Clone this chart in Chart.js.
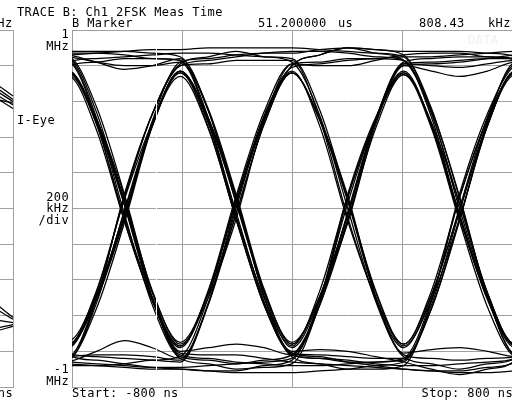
<!DOCTYPE html>
<html>
<head>
<meta charset="utf-8">
<script src="https://cdn.jsdelivr.net/npm/chart.js@4.4.1/dist/chart.umd.min.js"></script>
<style>
html, body { margin: 0; padding: 0; background: #fff; }
body { width: 512px; height: 401px; overflow: hidden; position: relative; }
#eyeI { position: absolute; left: -208px; top: 0; }
#eyeQ { position: absolute; left: 0; top: 0; }
</style>
</head>
<body>
<canvas id="eyeI" width="240" height="401"></canvas>
<canvas id="eyeQ" width="1180" height="401"></canvas>
<script>
// sample instants (ns): symbol peaks, quarter points and crossings
const sampleTimes = [-845.5, -805, -764.5, -724, -683.5, -643, -602.5, -562, -521.5, -481, -440.5, -400, -359.5, -319, -278.5, -238, -197.5, -157, -116.5, -76];

// frequency (MHz) of each captured trace at sampleTimes
const eyeTrace01 = [0.49, 0.77, 0.5, 0.05, -0.46, -0.76, -0.5, -0.06, 0.49, 0.81, 0.82, 0.84, 0.84, 0.83, 0.53, 0.03, -0.47, -0.77, -0.46, 0.06];
const eyeTrace02 = [-0.49, -0.77, -0.5, -0.05, 0.46, 0.76, 0.5, 0.07, -0.49, -0.82, -0.84, -0.86, -0.86, -0.85, -0.54, -0.02, 0.48, 0.77, 0.46, -0.06];
const eyeTrace03 = [0.88, 0.87, 0.87, 0.86, 0.84, 0.83, 0.51, -0.04, -0.5, -0.77, -0.46, 0.07, 0.5, 0.76, 0.46, -0.05, -0.5, -0.76, -0.47, 0.03];
const eyeTrace04 = [-0.89, -0.88, -0.88, -0.87, -0.85, -0.83, -0.5, 0.05, 0.5, 0.77, 0.46, -0.07, -0.5, -0.76, -0.46, 0.06, 0.5, 0.76, 0.48, 0.0];
const eyeTrace05 = [0.48, 0.76, 0.5, 0.07, -0.5, -0.83, -0.85, -0.87, -0.85, -0.82, -0.54, -0.07, 0.49, 0.82, 0.84, 0.85, 0.85, 0.84, 0.54, 0.04];
const eyeTrace06 = [-0.48, -0.76, -0.46, 0.06, 0.53, 0.81, 0.85, 0.88, 0.85, 0.82, 0.52, 0.0, -0.52, -0.83, -0.87, -0.9, -0.87, -0.84, -0.55, -0.05];
const eyeTrace07 = [0.52, 0.82, 0.84, 0.85, 0.86, 0.87, 0.87, 0.86, 0.85, 0.84, 0.55, 0.05, -0.47, -0.77, -0.51, -0.06, 0.46, 0.77, 0.51, 0.06];
const eyeTrace08 = [-0.52, -0.82, -0.85, -0.87, -0.89, -0.9, -0.91, -0.91, -0.88, -0.85, -0.51, 0.08, 0.51, 0.76, 0.47, -0.03, -0.49, -0.76, -0.46, 0.05];
const eyeTrace09 = [0.83, 0.82, 0.49, -0.07, -0.51, -0.77, -0.47, 0.03, 0.49, 0.76, 0.5, 0.07, -0.49, -0.82, -0.84, -0.85, -0.84, -0.83, -0.52, 0.0];
const eyeTrace10 = [-0.85, -0.84, -0.56, -0.08, 0.46, 0.77, 0.5, 0.04, -0.46, -0.76, -0.49, -0.04, 0.5, 0.81, 0.8, 0.79, 0.81, 0.83, 0.5, -0.05];
const eyeTrace11 = [0.5, 0.8, 0.82, 0.84, 0.84, 0.83, 0.55, 0.06, -0.49, -0.81, -0.82, -0.83, -0.84, -0.84, -0.56, -0.07, 0.49, 0.82, 0.83, 0.84];
const eyeTrace12 = [-0.51, -0.81, -0.83, -0.84, -0.85, -0.86, -0.54, 0.0, 0.5, 0.8, 0.86, 0.9, 0.87, 0.83, 0.55, 0.07, -0.49, -0.82, -0.84, -0.85];
const eyeTrace13 = [0.85, 0.84, 0.54, 0.02, -0.51, -0.82, -0.84, -0.86, -0.87, -0.88, -0.88, -0.87, -0.86, -0.84, -0.51, 0.06, 0.5, 0.76, 0.47, -0.03];
const eyeTrace14 = [-0.84, -0.83, -0.5, 0.07, 0.53, 0.8, 0.83, 0.85, 0.87, 0.88, 0.88, 0.87, 0.85, 0.83, 0.51, -0.04, -0.5, -0.77, -0.47, 0.05];
const eyeTrace15 = [0.85, 0.86, 0.87, 0.88, 0.89, 0.89, 0.9, 0.9, 0.9, 0.9, 0.89, 0.88, 0.87, 0.85, 0.54, 0.0, -0.48, -0.76, -0.45, 0.07];
const eyeTrace16 = [-0.86, -0.87, -0.88, -0.89, -0.9, -0.9, -0.91, -0.92, -0.92, -0.92, -0.91, -0.9, -0.88, -0.86, -0.56, -0.06, 0.46, 0.77, 0.49, 0.02];
const eyeTrace17 = [0.49, 0.77, 0.47, -0.05, -0.5, -0.77, -0.46, 0.07, 0.54, 0.81, 0.8, 0.8, 0.83, 0.86, 0.87, 0.87, 0.85, 0.83, 0.52, -0.02];
const eyeTrace18 = [-0.48, -0.76, -0.49, -0.02, 0.47, 0.76, 0.46, -0.06, -0.54, -0.82, -0.84, -0.85, -0.87, -0.88, -0.88, -0.87, -0.86, -0.84, -0.51, 0.06];
const eyeTrace19 = [0.87, 0.86, 0.82, 0.78, 0.8, 0.84, 0.56, 0.08, -0.45, -0.76, -0.49, -0.03, 0.49, 0.8, 0.77, 0.74, 0.77, 0.82, 0.51, -0.02];
const eyeTrace20 = [-0.88, -0.86, -0.8, -0.74, -0.78, -0.84, -0.54, -0.03, 0.47, 0.76, 0.49, 0.04, -0.5, -0.81, -0.79, -0.78, -0.8, -0.83, -0.51, 0.03];
const eyeTrace21 = [-0.49, -0.77, -0.51, -0.06, 0.49, 0.82, 0.84, 0.86, 0.87, 0.87, 0.89, 0.9, 0.89, 0.88, 0.88, 0.88, 0.87, 0.85, 0.56, 0.06];
const eyeTrace22 = [0.48, 0.76, 0.49, 0.04, -0.5, -0.81, -0.82, -0.82, -0.84, -0.86, -0.87, -0.88, -0.89, -0.9, -0.91, -0.91, -0.89, -0.86, -0.56, -0.05];
const eyeTrace23 = [0.47, 0.75, 0.48, 0.02, -0.47, -0.75, -0.48, -0.03, 0.47, 0.76, 0.5, 0.05, -0.46, -0.76, -0.48, -0.01, 0.47, 0.75, 0.49, 0.04];
const eyeTrace24 = [-0.47, -0.74, -0.48, -0.04, 0.47, 0.77, 0.51, 0.06, -0.47, -0.78, -0.51, -0.06, 0.45, 0.75, 0.48, 0.03, -0.47, -0.77, -0.5, -0.04];
const eyeTrace25 = [-0.87, -0.85, -0.51, 0.08, 0.53, 0.8, 0.81, 0.83, 0.83, 0.83, 0.5, -0.05, -0.51, -0.78, -0.49, 0.0, 0.51, 0.81, 0.83, 0.84];
const eyeTrace26 = [0.84, 0.83, 0.51, -0.03, -0.54, -0.84, -0.87, -0.9, -0.89, -0.87, -0.53, 0.06, 0.49, 0.75, 0.45, -0.07, -0.55, -0.83, -0.85, -0.86];
const eyeTrace27 = [-0.85, -0.86, -0.87, -0.88, -0.89, -0.89, -0.88, -0.87, -0.86, -0.84, -0.54, -0.02, 0.5, 0.81, 0.82, 0.83, 0.84, 0.84, 0.55, 0.05];
const eyeTrace28 = [0.86, 0.85, 0.82, 0.8, 0.8, 0.82, 0.49, -0.06, -0.53, -0.8, -0.79, -0.8, -0.83, -0.86, -0.9, -0.93, -0.9, -0.85, -0.55, -0.04];
const eyeTrace29 = [0.47, 0.74, 0.44, -0.07, -0.52, -0.78, -0.47, 0.05, 0.52, 0.8, 0.86, 0.9, 0.89, 0.86, 0.56, 0.06, -0.49, -0.82, -0.83, -0.84];
const eyeTrace30 = [-0.49, -0.78, -0.47, 0.05, 0.48, 0.74, 0.45, -0.05, -0.54, -0.83, -0.87, -0.9, -0.9, -0.88, -0.52, 0.08, 0.53, 0.8, 0.83, 0.85];
const eyeTrace31 = [-0.84, -0.83, -0.82, -0.82, -0.83, -0.85, -0.53, 0.02, 0.51, 0.79, 0.81, 0.83, 0.84, 0.85, 0.85, 0.86, 0.87, 0.88, 0.88, 0.87];
const eyeTrace32 = [0.88, 0.88, 0.88, 0.88, 0.87, 0.85, 0.55, 0.03, -0.46, -0.75, -0.5, -0.08, 0.47, 0.8, 0.81, 0.82, 0.84, 0.86, 0.87, 0.87];
const eyeTrace33 = [-0.84, -0.84, -0.53, -0.01, 0.48, 0.77, 0.48, -0.02, -0.52, -0.81, -0.83, -0.86, -0.88, -0.9, -0.91, -0.92, -0.92, -0.91, -0.9, -0.9];
const eyeTrace34 = [0.86, 0.85, 0.57, 0.08, -0.47, -0.8, -0.78, -0.76, -0.78, -0.82, -0.51, 0.03, 0.5, 0.77, 0.47, -0.04, -0.51, -0.78, -0.47, 0.07];

// I-Eye panel on the left, only its last few ns are on screen
const iEyeTimes = [740, 770, 800, 830];
const iEyeUpper1 = [0.76, 0.71, 0.63, 0.55];
const iEyeUpper2 = [0.74, 0.69, 0.61, 0.52];
const iEyeUpper3 = [0.72, 0.67, 0.6, 0.53];
const iEyeUpper4 = [0.7, 0.65, 0.58, 0.5];
const iEyeUpper5 = [0.69, 0.63, 0.56, 0.48];
const iEyeUpper6 = [0.66, 0.62, 0.59, 0.57];
const iEyeLower1 = [-0.46, -0.52, -0.61, -0.68];
const iEyeLower2 = [-0.49, -0.55, -0.62, -0.68];
const iEyeLower3 = [-0.58, -0.62, -0.64, -0.66];
const iEyeLower4 = [-0.66, -0.67, -0.65, -0.62];
const iEyeLower5 = [-0.7, -0.69, -0.66, -0.63];

const eyeTraces = [eyeTrace01, eyeTrace02, eyeTrace03, eyeTrace04, eyeTrace05, eyeTrace06, eyeTrace07, eyeTrace08,
  eyeTrace09, eyeTrace10, eyeTrace11, eyeTrace12, eyeTrace13, eyeTrace14, eyeTrace15, eyeTrace16,
  eyeTrace17, eyeTrace18, eyeTrace19, eyeTrace20, eyeTrace21, eyeTrace22, eyeTrace23, eyeTrace24,
  eyeTrace25, eyeTrace26, eyeTrace27, eyeTrace28, eyeTrace29, eyeTrace30, eyeTrace31, eyeTrace32,
  eyeTrace33, eyeTrace34];
const iEyeTraces = [iEyeUpper1, iEyeUpper2, iEyeUpper3, iEyeUpper4, iEyeUpper5, iEyeUpper6,
  iEyeLower1, iEyeLower2, iEyeLower3, iEyeLower4, iEyeLower5];

const gridGray = '#a0a0a0';
const screenFont = '12px "DejaVu Sans Mono"';

function toDataset(times, vals) {
  return {
    data: times.map((t, i) => ({ x: t, y: vals[i] })),
    borderColor: '#000',
    borderWidth: 1.25,
    pointRadius: 0,
    fill: false,
    cubicInterpolationMode: 'monotone'
  };
}

function axes(xmin, xmax) {
  return {
    x: {
      type: 'linear', min: xmin, max: xmax,
      ticks: { display: false, stepSize: 160 },
      grid: { color: gridGray, drawTicks: false },
      border: { color: gridGray }
    },
    y: {
      min: -1, max: 1,
      ticks: { display: false, stepSize: 0.2 },
      grid: { color: gridGray, drawTicks: false },
      border: { color: gridGray }
    }
  };
}

// text of the analyzer screen: [text, x, baseline, align, colour]
const screenLabels = [
  ['TRACE B: Ch1 2FSK Meas Time', 17, 16, 'left'],
  ['MHz', 12.5, 27, 'right'],
  ['B Marker', 72, 27, 'left'],
  ['51.200000', 258, 27, 'left'],
  ['us', 338, 27, 'left'],
  ['808.43', 419, 27, 'left'],
  ['kHz', 488, 27, 'left'],
  ['1', 69, 38, 'right'],
  ['MHz', 69, 50, 'right'],
  ['I-Eye', 17, 124, 'left'],
  ['200', 69, 201, 'right'],
  ['kHz', 69, 212, 'right'],
  ['/div', 69, 224, 'right'],
  ['-1', 69, 373, 'right'],
  ['MHz', 69, 385, 'right'],
  ['Start: -800 ns', 72, 397, 'left'],
  ['Stop: 800 ns', 513, 397, 'right'],
  ['Stop: 800 ns', 13, 397, 'right'],
  ['DATA', 468, 44, 'left', '#f0f0f0']
];

const screenText = {
  id: 'screenText',
  afterDatasetsDraw(chart) {
    const ctx = chart.ctx;
    const a = chart.chartArea;
    ctx.save();
    // B marker
    ctx.strokeStyle = '#fff';
    ctx.lineWidth = 1;
    ctx.beginPath();
    ctx.moveTo(156.5, a.top + 1);
    ctx.lineTo(156.5, a.bottom - 1);
    ctx.stroke();
    ctx.font = screenFont;
    ctx.letterSpacing = '0.4px';
    ctx.textBaseline = 'alphabetic';
    screenLabels.forEach(l => {
      ctx.fillStyle = l[4] || '#000';
      ctx.textAlign = l[3];
      ctx.fillText(l[0], l[1], l[2]);
    });
    ctx.restore();
  }
};

new Chart(document.getElementById('eyeI'), {
  type: 'line',
  data: { datasets: iEyeTraces.map(v => toDataset(iEyeTimes, v)) },
  options: {
    responsive: false,
    animation: false,
    events: [],
    layout: { padding: { left: 0, top: 30, right: 19, bottom: 14 } },
    plugins: { legend: { display: false }, tooltip: { enabled: false } },
    scales: axes(480, 800)
  }
});

new Chart(document.getElementById('eyeQ'), {
  type: 'line',
  data: { datasets: eyeTraces.map(v => toDataset(sampleTimes, v)) },
  options: {
    responsive: false,
    animation: false,
    events: [],
    layout: { padding: { left: 72, top: 30, right: 5, bottom: 14 } },
    plugins: { legend: { display: false }, tooltip: { enabled: false } },
    scales: axes(-800, 800)
  },
  plugins: [screenText]
});
</script>
</body>
</html>
